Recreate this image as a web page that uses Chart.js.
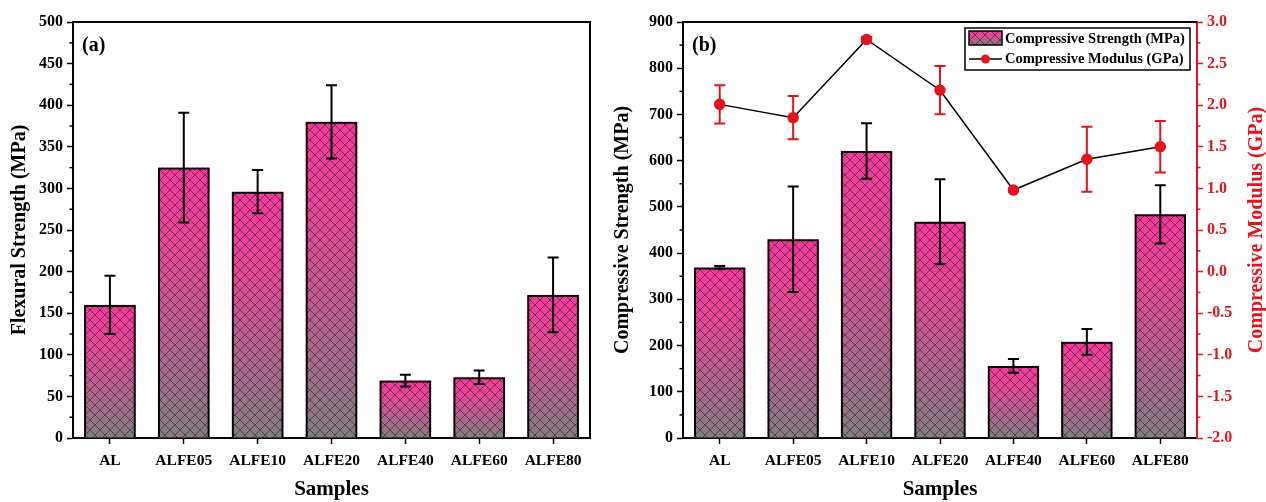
<!DOCTYPE html>
<html>
<head>
<meta charset="utf-8">
<script src="https://cdn.jsdelivr.net/npm/chart.js@4.4.1/dist/chart.umd.min.js"></script>
<style>
    html, body { margin: 0; padding: 0; background: #fff; }
    #wrap { position: relative; width: 1266px; height: 502px; }
    canvas { position: absolute; top: 0; }
    #flex { left: 0; }
    #comp { left: 600px; }
</style>
</head>
<body>
<div id="wrap">
    <canvas id="flex" width="600" height="502"></canvas>
    <canvas id="comp" width="666" height="502"></canvas>
</div>
<script>
const samples = ["AL", "ALFE05", "ALFE10", "ALFE20", "ALFE40", "ALFE60", "ALFE80"];

const flexural = [160, 325, 296, 380, 69, 73, 172];
const flexuralErr = [35, 66, 26, 44, 7, 8, 45];

const compStrength = [369, 430, 621, 468, 156, 208, 484];
const compStrengthErr = [3, 114, 60, 92, 15, 28, 63];

const compModulus = [2.01, 1.85, 2.79, 2.18, 0.98, 1.35, 1.50];
const compModulusErr = [0.23, 0.26, 0.03, 0.29, 0.02, 0.39, 0.31];

const flexTicks = [0, 50, 100, 150, 200, 250, 300, 350, 400, 450, 500];
const strengthTicks = [0, 100, 200, 300, 400, 500, 600, 700, 800, 900];
const modulusTicks = [-2.0, -1.5, -1.0, -0.5, 0.0, 0.5, 1.0, 1.5, 2.0, 2.5, 3.0];

const RED = "#e3141c";
const PINK = "rgb(242,58,156)";
const GRAY = "rgb(128,126,128)";

Chart.defaults.font.family = '"Liberation Serif", "Times New Roman", serif';
Chart.defaults.font.weight = "bold";
Chart.defaults.font.size = 16;
Chart.defaults.color = "#000";

let hatch;
function getHatch(ctx) {
    if (hatch) return hatch;
    const s = 10, c = document.createElement("canvas");
    c.width = c.height = s;
    const x = c.getContext("2d");
    x.strokeStyle = "rgba(45,15,35,0.62)";
    x.lineWidth = 0.9;
    x.beginPath();
    x.moveTo(0, 0); x.lineTo(s, s);
    x.moveTo(0, s); x.lineTo(s, 0);
    x.stroke();
    hatch = ctx.createPattern(c, "repeat");
    return hatch;
}

function paintBar(ctx, left, top, w, h) {
    const g = ctx.createLinearGradient(0, top, 0, top + h);
    g.addColorStop(0, PINK);
    g.addColorStop(0.3, "rgb(226,72,150)");
    g.addColorStop(1, GRAY);
    ctx.fillStyle = g;
    ctx.fillRect(left, top, w, h);
    ctx.fillStyle = getHatch(ctx);
    ctx.fillRect(left, top, w, h);
}

// gradient + crosshatch under each bar (border is drawn by Chart.js)
const barFill = {
    id: "barFill",
    beforeDatasetDraw(chart, args) {
        const ds = chart.data.datasets[args.index];
        if (!ds.hatched) return;
        const ctx = chart.ctx;
        ctx.save();
        args.meta.data.forEach(el => {
            const { x, y, base, width } = el.getProps(["x", "y", "base", "width"], true);
            const top = Math.min(y, base), h = Math.abs(base - y);
            paintBar(ctx, x - width / 2, top, width, h);
        });
        ctx.restore();
    }
};

const errBars = {
    id: "errBars",
    afterDatasetDraw(chart, args) {
        const ds = chart.data.datasets[args.index];
        if (!ds.errors) return;
        const ctx = chart.ctx, ys = chart.scales[args.meta.yAxisID];
        ctx.save();
        ctx.strokeStyle = ds.errorColor;
        ctx.lineWidth = 2;
        args.meta.data.forEach((el, i) => {
            const v = ds.data[i], e = ds.errors[i];
            const hi = ys.getPixelForValue(v + e), lo = ys.getPixelForValue(v - e);
            ctx.beginPath();
            ctx.moveTo(el.x, hi); ctx.lineTo(el.x, lo);
            ctx.moveTo(el.x - 5.5, hi); ctx.lineTo(el.x + 5.5, hi);
            ctx.moveTo(el.x - 5.5, lo); ctx.lineTo(el.x + 5.5, lo);
            ctx.stroke();
        });
        ctx.restore();
    }
};

// minor ticks, top/right frame, panel label, optional right-hand title
const frame = {
    id: "frame",
    afterDraw(chart, args, opts) {
        const { ctx, chartArea: a } = chart;
        ctx.save();
        Object.values(chart.scales).forEach(s => {
            if (s.axis !== "y") return;
            ctx.strokeStyle = s.options.border.color;
            ctx.lineWidth = 1.5;
            const x0 = s.position === "left" ? a.left : a.right;
            const dir = s.position === "left" ? -1 : 1;
            for (let i = 0; i < s.ticks.length - 1; i++) {
                const py = s.getPixelForValue((s.ticks[i].value + s.ticks[i + 1].value) / 2);
                ctx.beginPath();
                ctx.moveTo(x0, py); ctx.lineTo(x0 + dir * 3.5, py);
                ctx.stroke();
            }
        });
        ctx.strokeStyle = "#000";
        ctx.lineWidth = 2;
        ctx.beginPath();
        ctx.moveTo(a.left, a.top);
        ctx.lineTo(a.right, a.top);
        if (opts.rightEdge) ctx.lineTo(a.right, a.bottom);
        ctx.stroke();
        ctx.fillStyle = "#000";
        ctx.font = 'bold 20px "Liberation Serif"';
        ctx.textBaseline = "middle";
        ctx.fillText(opts.label, a.left + 9, a.top + 24);
        if (opts.rightTitle) {
            ctx.translate(chart.width - 9, (a.top + a.bottom) / 2);
            ctx.rotate(-Math.PI / 2);
            ctx.textAlign = "center";
            ctx.fillStyle = RED;
            ctx.fillText(opts.rightTitle, 0, 0);
        }
        ctx.restore();
    }
};

const boxLegend = {
    id: "boxLegend",
    afterDraw(chart) {
        const { ctx, chartArea: a } = chart;
        const w = 225, h = 42, x = a.right - 7 - w, y = a.top + 6;
        const ds = chart.data.datasets;
        ctx.save();
        ctx.fillStyle = "#fff";
        ctx.fillRect(x, y, w, h);
        ctx.strokeStyle = "#000";
        ctx.lineWidth = 1.5;
        ctx.strokeRect(x, y, w, h);
        paintBar(ctx, x + 4, y + 3, 33, 14);
        ctx.strokeRect(x + 4, y + 3, 33, 14);
        ctx.beginPath();
        ctx.moveTo(x + 4, y + 31); ctx.lineTo(x + 37, y + 31);
        ctx.stroke();
        ctx.fillStyle = RED;
        ctx.beginPath();
        ctx.arc(x + 20.5, y + 31, 4.5, 0, Math.PI * 2);
        ctx.fill();
        ctx.fillStyle = "#000";
        ctx.font = 'bold 14.5px "Liberation Serif"';
        ctx.textBaseline = "middle";
        ctx.fillText(ds[0].label, x + 40, y + 11);
        ctx.fillText(ds[1].label, x + 40, y + 31);
        ctx.restore();
    }
};

const fixTicks = list => s => { s.ticks = list.map(v => ({ value: v })); };

function xScale() {
    return {
        offset: true,
        grid: { display: true, drawOnChartArea: false, offset: false, tickLength: 6, tickWidth: 1.5, tickColor: "#000" },
        border: { color: "#000", width: 2 },
        ticks: { padding: 8, font: { size: 15.5 } },
        title: { display: true, text: "Samples", font: { size: 21 }, padding: { bottom: 0, top: 0 } },
        afterFit: s => { s.height = 64; }
    };
}

new Chart(document.getElementById("flex"), {
    type: "bar",
    data: {
        labels: samples,
        datasets: [{
            label: "Flexural Strength (MPa)",
            data: flexural,
            errors: flexuralErr,
            errorColor: "#000",
            hatched: true,
            backgroundColor: "rgba(0,0,0,0)",
            borderColor: "#000",
            borderWidth: 2,
            barPercentage: 0.7,
            categoryPercentage: 1
        }]
    },
    options: {
        responsive: false,
        animation: false,
        devicePixelRatio: 1,
        layout: { padding: { top: 22, right: 10, left: 0, bottom: 0 } },
        plugins: {
            legend: { display: false },
            tooltip: { enabled: false },
            frame: { label: "(a)", rightEdge: true }
        },
        scales: {
            x: xScale(),
            y: {
                min: 0, max: 500,
                afterBuildTicks: fixTicks(flexTicks),
                grid: { display: true, drawOnChartArea: false, tickLength: 6, tickWidth: 1.5, tickColor: "#000" },
                border: { color: "#000", width: 2 },
                ticks: { padding: 4 },
                title: { display: true, text: "Flexural Strength (MPa)", font: { size: 20 }, padding: { top: 8 } },
                afterFit: s => { s.width = 73; }
            }
        }
    },
    plugins: [barFill, errBars, frame]
});

new Chart(document.getElementById("comp"), {
    type: "bar",
    data: {
        labels: samples,
        datasets: [{
            label: "Compressive Strength (MPa)",
            data: compStrength,
            errors: compStrengthErr,
            errorColor: "#000",
            hatched: true,
            backgroundColor: "rgba(0,0,0,0)",
            borderColor: "#000",
            borderWidth: 2,
            barPercentage: 0.7,
            categoryPercentage: 1,
            yAxisID: "y",
            order: 1
        }, {
            type: "line",
            label: "Compressive Modulus (GPa)",
            data: compModulus,
            errors: compModulusErr,
            errorColor: RED,
            borderColor: "#000",
            borderWidth: 1.5,
            pointRadius: 5,
            pointBackgroundColor: RED,
            pointBorderColor: RED,
            yAxisID: "y1",
            order: 0
        }]
    },
    options: {
        responsive: false,
        animation: false,
        devicePixelRatio: 1,
        layout: { padding: { top: 22, right: 0, left: 0, bottom: 0 } },
        plugins: {
            legend: { display: false },
            tooltip: { enabled: false },
            frame: { label: "(b)", rightEdge: false, rightTitle: "Compressive Modulus (GPa)" }
        },
        scales: {
            x: xScale(),
            y: {
                position: "left",
                min: 0, max: 900,
                afterBuildTicks: fixTicks(strengthTicks),
                grid: { display: true, drawOnChartArea: false, tickLength: 6, tickWidth: 1.5, tickColor: "#000" },
                border: { color: "#000", width: 2 },
                ticks: { padding: 4 },
                title: { display: true, text: "Compressive Strength (MPa)", font: { size: 20 }, padding: { top: 11 } },
                afterFit: s => { s.width = 83; }
            },
            y1: {
                position: "right",
                min: -2, max: 3,
                afterBuildTicks: fixTicks(modulusTicks),
                grid: { display: true, drawOnChartArea: false, tickLength: 6, tickWidth: 1.5, tickColor: RED },
                border: { color: RED, width: 2 },
                ticks: { padding: 4, color: RED, callback: v => v.toFixed(1) },
                afterFit: s => { s.width = 69; }
            }
        }
    },
    plugins: [barFill, errBars, frame, boxLegend]
});
</script>
</body>
</html>
